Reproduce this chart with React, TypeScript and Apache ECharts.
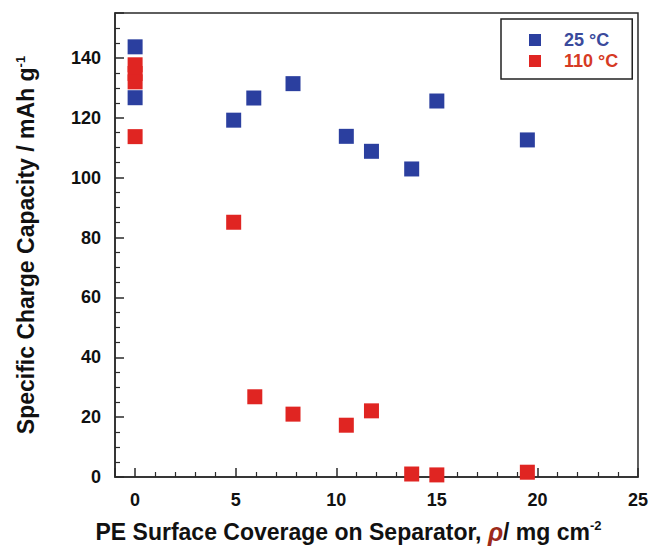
import React, { useEffect, useRef } from "react";
import * as echarts from "echarts";

const coverage25: number[] = [0, 0, 4.9, 5.9, 7.85, 10.5, 11.75, 13.75, 15.0, 19.5];
const capacity25: number[] = [143.7, 126.7, 119.2, 126.6, 131.4, 113.8, 108.8, 102.9, 125.6, 112.6];

const coverage110: number[] = [0, 0, 0, 0, 4.9, 5.95, 7.85, 10.5, 11.75, 13.75, 15.0, 19.5];
const capacity110: number[] = [137.7, 134.8, 132.0, 113.7, 85.1, 26.8, 21.0, 17.3, 22.1, 1.0, 0.7, 1.6];

const seriesNames: string[] = ["25 °C", "110 °C"];
const xTitle = "PE Surface Coverage on Separator, ";
const yTitle = "Specific Charge Capacity / mAh g";

const BLUE = "#2b3f9f";
const RED = "#e02522";
const FONT = "'Liberation Sans', Arial, sans-serif";

export default function App() {
  const ref = useRef<HTMLDivElement>(null);
  useEffect(() => {
    if (!ref.current) return;
    const chart = echarts.init(ref.current, null, { renderer: "svg" });
    const pts = (xs: number[], ys: number[]) => xs.map((x, i) => [x, ys[i]]);
    const axisCommon = {
      axisLine: { show: true, onZero: false, lineStyle: { color: "#2a2a2a", width: 1.5 } },
      axisTick: { show: true, inside: true, length: 9, lineStyle: { color: "#2a2a2a", width: 1.5 } },
      minorTick: { show: true, length: 5, lineStyle: { color: "#2a2a2a", width: 1.2 } },
      splitLine: { show: false },
      minorSplitLine: { show: false },
      axisLabel: {
        color: "#111",
        fontFamily: FONT,
        fontWeight: "bold" as const,
        fontSize: 18,
        margin: 14,
      },
    };
    chart.setOption({
      animation: false,
      backgroundColor: "#fff",
      grid: {
        left: 115,
        right: 13,
        top: 13,
        bottom: 73,
        show: true,
        borderColor: "#2a2a2a",
        borderWidth: 1.5,
        backgroundColor: "transparent",
      },
      legend: {
        orient: "vertical",
        left: 501,
        top: 19,
        padding: [12, 14, 9, 28],
        itemGap: 3,
        itemWidth: 12,
        itemHeight: 12,
        borderColor: "#222",
        borderWidth: 1.5,
        icon: "rect",
        textStyle: { fontFamily: FONT, fontWeight: "bold", fontSize: 18, padding: [0, 0, 0, 18] },
        data: [
          { name: seriesNames[0], textStyle: { color: "#3a4a9c" } },
          { name: seriesNames[1], textStyle: { color: "#d63a24" } },
        ],
      },
      xAxis: {
        type: "value",
        min: -1,
        max: 25,
        splitNumber: 5,
        ...axisCommon,
        minorTick: { ...axisCommon.minorTick, splitNumber: 5 },
        axisLabel: { ...axisCommon.axisLabel, showMinLabel: false },
        name: `${xTitle}{rho|ρ}/ mg cm{sup|-2}`,
        nameLocation: "middle",
        nameGap: 42,
        nameTextStyle: {
          color: "#111",
          fontFamily: FONT,
          fontWeight: "bold",
          fontSize: 23,
          padding: [0, 56, 0, 0],
          rich: {
            rho: { fontFamily: FONT, fontStyle: "italic", fontWeight: "bold", fontSize: 25, color: "#9c2a1a" },
            sup: { fontFamily: FONT, fontWeight: "bold", fontSize: 13, color: "#111", verticalAlign: "top" },
          },
        },
      },
      yAxis: {
        type: "value",
        min: 0,
        max: 155,
        splitNumber: 8,
        ...axisCommon,
        minorTick: { ...axisCommon.minorTick, splitNumber: 4 },
        axisLabel: { ...axisCommon.axisLabel, showMaxLabel: false },
        name: `${yTitle}{sup|-1}`,
        nameLocation: "middle",
        nameRotate: 90,
        nameGap: 78,
        nameTextStyle: {
          color: "#111",
          fontFamily: FONT,
          fontWeight: "bold",
          fontSize: 23,
          rich: {
            sup: { fontFamily: FONT, fontWeight: "bold", fontSize: 13, color: "#111", verticalAlign: "top" },
          },
        },
      },
      series: [
        {
          name: seriesNames[0],
          type: "scatter",
          symbol: "rect",
          symbolSize: 15,
          clip: false,
          itemStyle: { color: BLUE, opacity: 1 },
          data: pts(coverage25, capacity25),
          z: 2,
        },
        {
          name: seriesNames[1],
          type: "scatter",
          symbol: "rect",
          symbolSize: 15,
          clip: false,
          itemStyle: { color: RED, opacity: 1 },
          data: pts(coverage110, capacity110),
          z: 3,
        },
      ],
    });
    return () => chart.dispose();
  }, []);
  return (
    <div
      ref={ref}
      style={{ position: "absolute", left: 0, top: 0, width: 651, height: 550, background: "#fff" }}
    />
  );
}
